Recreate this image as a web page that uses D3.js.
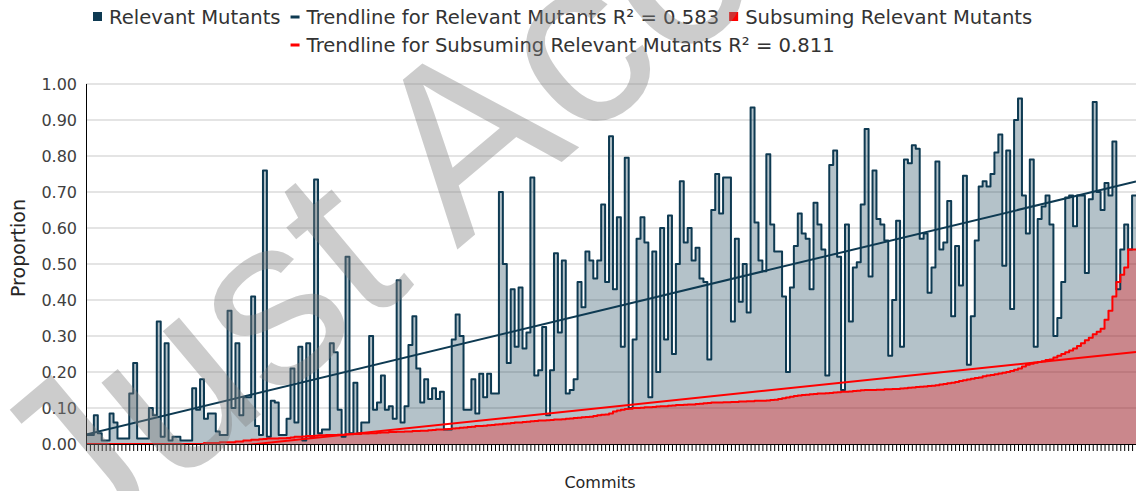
<!DOCTYPE html>
<html>
<head>
<meta charset="utf-8">
<script src="https://cdn.jsdelivr.net/npm/d3@7"></script>
<style>
  body { margin: 0; background: #fff; }
  svg { display: block; font-family: "DejaVu Sans", Verdana, sans-serif; }
</style>
</head>
<body>
<div id="chart1"></div>
<script>
// proportion of relevant mutants per commit (left to right)
let relevant = [
  0.025, 0.025, 0.08, 0.03, 0.01, 0.01, 0.085, 0.06, 0.015, 0.015,
  0.015, 0.14, 0.225, 0.015, 0.015, 0.015, 0.10, 0.08, 0.34, 0.02,
  0.28, 0.01, 0.02, 0.02, 0.01, 0.01, 0.01, 0.155, 0.095, 0.18,
  0.07, 0.085, 0.085, 0.035, 0.025, 0.025, 0.37, 0.10, 0.28, 0.08,
  0.13, 0.13, 0.41, 0.05, 0.025, 0.76, 0.02, 0.12, 0.115, 0.025,
  0.025, 0.07, 0.21, 0.06, 0.27, 0.01, 0.28, 0.02, 0.735, 0.03,
  0.04, 0.04, 0.28, 0.255, 0.095, 0.02, 0.52,
  0.03, 0.17, 0.03, 0.06, 0.06, 0.30, 0.095, 0.115, 0.19, 0.095,
  0.105, 0.07, 0.455, 0.06, 0.105, 0.275, 0.355, 0.21, 0.115, 0.18,
  0.125, 0.155, 0.125, 0.145, 0.04, 0.04, 0.29, 0.36, 0.30, 0.095,
  0.095, 0.18, 0.085, 0.195, 0.13, 0.195, 0.14, 0.14, 0.70, 0.50,
  0.225, 0.43, 0.27, 0.435, 0.265, 0.31, 0.74, 0.19, 0.205, 0.325,
  0.08, 0.205, 0.53, 0.31, 0.51, 0.14, 0.15, 0.18, 0.45, 0.38,
  0.535, 0.51, 0.46, 0.51, 0.665,
  0.45, 0.855, 0.43, 0.63, 0.27, 0.795, 0.10, 0.29, 0.57, 0.63,
  0.56, 0.13, 0.535, 0.20, 0.60, 0.29, 0.635, 0.25, 0.50, 0.73,
  0.56, 0.60, 0.51, 0.545, 0.46, 0.45, 0.235, 0.65, 0.75, 0.64,
  0.74, 0.74, 0.34, 0.57, 0.395, 0.50, 0.365, 0.935, 0.615, 0.51,
  0.48, 0.805, 0.61, 0.535, 0.535, 0.41, 0.20, 0.435, 0.55, 0.64,
  0.585, 0.57, 0.43, 0.67, 0.61, 0.54, 0.19, 0.775, 0.815, 0.52,
  0.15, 0.61, 0.34, 0.49,
  0.505, 0.665, 0.875, 0.465, 0.76, 0.625, 0.61, 0.565, 0.245, 0.40,
  0.62, 0.27, 0.79, 0.78, 0.83, 0.82, 0.57, 0.585, 0.42, 0.49,
  0.785, 0.54, 0.56, 0.675, 0.355, 0.55, 0.44, 0.745, 0.22, 0.355,
  0.565, 0.715, 0.73, 0.715, 0.75, 0.81, 0.86, 0.495, 0.815, 0.375,
  0.90, 0.96, 0.69, 0.585, 0.79, 0.27, 0.625, 0.66, 0.69, 0.61,
  0.30, 0.35, 0.45, 0.685, 0.69, 0.605, 0.69, 0.69, 0.475, 0.68,
  0.95, 0.70, 0.65, 0.725, 0.69, 0.84, 0.43, 0.54, 0.61, 0.54,
  0.69
];

// proportion of subsuming relevant mutants per commit (sorted, ascending)
let subsuming = [
  0, 0, 0, 0, 0, 0, 0, 0, 0, 0,
  0, 0, 0, 0, 0, 0, 0, 0, 0, 0,
  0, 0, 0, 0, 0, 0, 0, 0, 0, 0,
  0.003, 0.003, 0.003, 0.003, 0.005, 0.005, 0.005, 0.005, 0.007, 0.007,
  0.01, 0.01, 0.012, 0.012, 0.013, 0.014, 0.015, 0.015, 0.015, 0.016,
  0.016, 0.017, 0.018, 0.02, 0.02, 0.021, 0.022, 0.022, 0.023, 0.024,
  0.024, 0.025, 0.025, 0.025, 0.026, 0.026, 0.027, 0.027, 0.028, 0.028,
  0.029, 0.029, 0.03, 0.03, 0.031, 0.032, 0.032, 0.033, 0.033, 0.034,
  0.034, 0.035, 0.035, 0.036, 0.036, 0.037, 0.037, 0.038, 0.039, 0.04,
  0.04, 0.041, 0.042, 0.043, 0.044, 0.045, 0.046, 0.047, 0.048, 0.05,
  0.05, 0.051, 0.052, 0.053, 0.054, 0.055, 0.056, 0.057, 0.058, 0.06,
  0.06, 0.061, 0.062, 0.063, 0.064, 0.065, 0.065, 0.066, 0.067, 0.068,
  0.068, 0.069, 0.07, 0.071, 0.072, 0.073, 0.074, 0.075, 0.076, 0.078,
  0.08, 0.081, 0.082, 0.085, 0.09, 0.093, 0.095, 0.097, 0.098, 0.1,
  0.1, 0.101, 0.102, 0.102, 0.103, 0.104, 0.105, 0.105, 0.106, 0.107,
  0.108, 0.108, 0.109, 0.11, 0.11, 0.111, 0.112, 0.113, 0.114, 0.115,
  0.115, 0.115, 0.116, 0.116, 0.117, 0.117, 0.118, 0.118, 0.119, 0.119,
  0.12, 0.12, 0.12, 0.121, 0.122, 0.123, 0.125, 0.127, 0.129, 0.131,
  0.133, 0.135, 0.136, 0.137, 0.138, 0.139, 0.14, 0.14, 0.141, 0.142,
  0.143, 0.144, 0.145, 0.145, 0.146, 0.147, 0.148, 0.149, 0.15, 0.15,
  0.15, 0.151, 0.151, 0.152, 0.152, 0.153, 0.153, 0.154, 0.155, 0.156,
  0.157, 0.158, 0.159, 0.16, 0.161, 0.162, 0.163, 0.165, 0.167, 0.169,
  0.17, 0.172, 0.175, 0.177, 0.179, 0.181, 0.183, 0.185, 0.188, 0.19,
  0.192, 0.194, 0.196, 0.198, 0.2, 0.203, 0.206, 0.21, 0.215, 0.22,
  0.223, 0.226, 0.228, 0.23, 0.233, 0.235, 0.24, 0.245, 0.25, 0.255,
  0.26, 0.265, 0.272, 0.28, 0.288, 0.295, 0.305, 0.312, 0.32, 0.345,
  0.37, 0.41, 0.45, 0.47, 0.49, 0.54, 0.54
];

let yTicks = [0, 0.1, 0.2, 0.3, 0.4, 0.5, 0.6, 0.7, 0.8, 0.9, 1.0];
let r2Relevant = 0.583;
let r2Subsuming = 0.811;
let legendLine1 = ['Relevant Mutants', 'Trendline for Relevant Mutants R² = ' + r2Relevant, 'Subsuming Relevant Mutants'];
let legendLine2 = ['Trendline for Subsuming Relevant Mutants R² = ' + r2Subsuming];
let watermark = 'Just Accepted';

let navy = '#0e3a52';
let red = '#ff0000';

let dim = {
    'width': 1136,
    'height': 491,
    'left': 86,
    'right': 1136,
    'top': 84,
    'bottom': 444
};

let svg = d3.select('#chart1').append('svg')
    .attr('width', dim.width)
    .attr('height', dim.height);

svg.append('defs').append('clipPath')
    .attr('id', 'plot')
    .append('rect')
    .attr('x', dim.left)
    .attr('y', dim.top)
    .attr('width', dim.right - dim.left)
    .attr('height', dim.bottom - dim.top);

let n = relevant.length;

let scaleX = d3.scaleLinear()
    .domain([0, n])
    .range([dim.left, dim.right]);

let scaleY = d3.scaleLinear()
    .domain([0, 1])
    .range([dim.bottom, dim.top]);

// gridlines
svg.append('g')
    .selectAll('line')
    .data(yTicks.slice(1))
    .join('line')
    .attr('x1', dim.left)
    .attr('x2', dim.right)
    .attr('y1', d => scaleY(d))
    .attr('y2', d => scaleY(d))
    .attr('stroke', '#c9c9c9')
    .attr('stroke-width', 1);

// y labels
svg.append('g')
    .selectAll('text')
    .data(yTicks)
    .join('text')
    .attr('x', 77)
    .attr('y', d => scaleY(d))
    .attr('dy', '0.36em')
    .attr('text-anchor', 'end')
    .attr('font-size', 16)
    .attr('fill', '#404040')
    .text(d3.format('.2f'));

// each commit fills its own band, so repeat the last value at the right edge
function steps(vals) {
    return vals.map((v, i) => [i, v]).concat([[vals.length, vals[vals.length - 1]]]);
}

let area = d3.area()
    .x(d => scaleX(d[0]))
    .y0(scaleY(0))
    .y1(d => scaleY(d[1]))
    .curve(d3.curveStepAfter);

let line = d3.line()
    .x(d => scaleX(d[0]))
    .y(d => scaleY(d[1]))
    .curve(d3.curveStepAfter);

let g = svg.append('g').attr('clip-path', 'url(#plot)');

g.append('path')
    .attr('d', area(steps(relevant)))
    .attr('fill', navy)
    .attr('fill-opacity', 0.31);

g.append('path')
    .attr('d', area(steps(subsuming)))
    .attr('fill', red)
    .attr('fill-opacity', 0.3);

g.append('path')
    .attr('d', line(steps(relevant)))
    .attr('fill', 'none')
    .attr('stroke', navy)
    .attr('stroke-width', 2)
    .attr('stroke-linejoin', 'round');

g.append('path')
    .attr('d', line(steps(subsuming)))
    .attr('fill', 'none')
    .attr('stroke', red)
    .attr('stroke-width', 2)
    .attr('stroke-linejoin', 'round');

// least squares trendline, x = 1..n like the spreadsheet does
function trend(vals) {
    let xs = vals.map((v, i) => i + 1);
    let mx = d3.mean(xs);
    let my = d3.mean(vals);
    let sxy = d3.sum(vals, (v, i) => (xs[i] - mx) * (v - my));
    let sxx = d3.sum(xs, xv => (xv - mx) * (xv - mx));
    let b = sxy / sxx;
    let a = my - b * mx;
    return [[0, a + b * 0.5], [vals.length, a + b * (vals.length + 0.5)]];
}

let straight = d3.line()
    .x(d => scaleX(d[0]))
    .y(d => scaleY(d[1]));

g.append('path')
    .attr('d', straight(trend(subsuming)))
    .attr('stroke', red)
    .attr('stroke-width', 2)
    .attr('fill', 'none');

g.append('path')
    .attr('d', straight(trend(relevant)))
    .attr('stroke', navy)
    .attr('stroke-width', 2)
    .attr('fill', 'none');

// axes
let axisX = d3.axisBottom(scaleX)
    .tickValues(d3.range(0, n + 1))
    .tickSize(7)
    .tickSizeOuter(0)
    .tickFormat('');

let ax = svg.append('g')
    .attr('transform', `translate(0, ${dim.bottom})`)
    .call(axisX);
ax.select('.domain').attr('stroke', '#000').attr('stroke-width', 1);
ax.selectAll('.tick line').attr('stroke', '#000').attr('stroke-width', 1);

svg.append('line')
    .attr('x1', dim.left + 0.5)
    .attr('x2', dim.left + 0.5)
    .attr('y1', dim.top)
    .attr('y2', dim.bottom)
    .attr('stroke', '#000')
    .attr('stroke-width', 1);

// axis titles
svg.append('text')
    .attr('transform', 'translate(25, 248) rotate(-90)')
    .attr('text-anchor', 'middle')
    .attr('font-size', 19)
    .attr('fill', '#262626')
    .text('Proportion');

svg.append('text')
    .attr('x', 600)
    .attr('y', 488)
    .attr('text-anchor', 'middle')
    .attr('font-size', 16)
    .attr('fill', '#262626')
    .text('Commits');

// legend
let legendFont = 19.6;
let markers = [
    {color: navy, kind: 'square'},
    {color: navy, kind: 'dash'},
    {color: red, kind: 'square'}
];

function legendItem(parent, x, yc, label, marker) {
    if (marker.kind == 'square') {
        parent.append('rect')
            .attr('x', x).attr('y', yc - 5)
            .attr('width', 9).attr('height', 9)
            .attr('fill', marker.color);
    } else {
        parent.append('rect')
            .attr('x', x).attr('y', yc - 1.5)
            .attr('width', 9).attr('height', 3)
            .attr('fill', marker.color);
    }
    let t = parent.append('text')
        .attr('x', x + 16)
        .attr('y', yc)
        .attr('dy', '0.36em')
        .attr('font-size', legendFont)
        .attr('fill', '#333')
        .text(label);
    return x + 16 + t.node().getComputedTextLength() + 10;
}

let leg = svg.append('g');
let lx = 93;
let starts = [];
legendLine1.forEach((label, i) => {
    starts.push(lx);
    lx = legendItem(leg, lx, 17, label, markers[i]);
});
legendItem(leg, starts[1], 45, legendLine2[0], {color: red, kind: 'dash'});

// diagonal watermark over the whole figure
svg.append('text')
    .attr('transform', 'translate(79, 567) rotate(-40)')
    .attr('font-family', '"Liberation Sans", Arial, sans-serif')
    .attr('font-size', 240)
    .attr('fill', '#808080')
    .attr('fill-opacity', 0.4)
    .text(watermark);
</script>
</body>
</html>
